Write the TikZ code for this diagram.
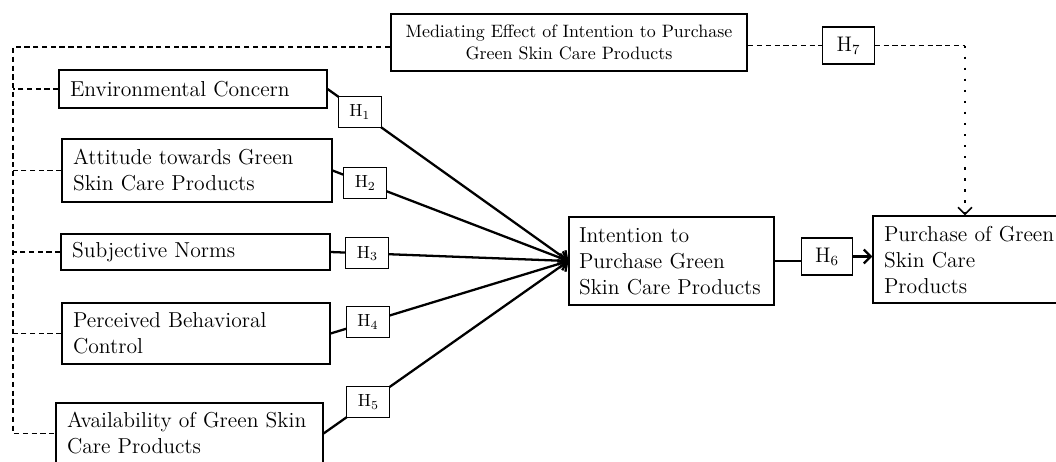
\documentclass[tikz,border=0pt]{standalone}
\usetikzlibrary{arrows.meta}
\begin{document}
\begin{tikzpicture}[x=0.02cm,y=-0.02cm,
  box/.style={draw, line width=0.65pt, fill=white, inner sep=0pt, align=left,
    font=\fontsize{12.3}{14.8}\selectfont},
  medbox/.style={draw, line width=1.4pt, fill=white, inner sep=0pt, align=center,
    minimum width=7.12cm, minimum height=1.14cm, font=\fontsize{10.2}{12.5}\selectfont},
  hbox/.style={draw, line width=0.65pt, fill=white, inner sep=0pt,
    minimum width=0.86cm, minimum height=0.62cm, font=\fontsize{10}{12}\selectfont},
  hbig/.style={draw, line width=0.65pt, fill=white, inner sep=0pt,
    minimum width=1.03cm, minimum height=0.74cm, font=\fontsize{12}{14}\selectfont},
  conn/.style={line width=1.3pt},
  connarrow/.style={line width=1.3pt, -{Straight Barb[length=4pt,width=8pt,line width=1.3pt]}},
  dashline/.style={line width=0.7pt, dash pattern=on 3pt off 2pt},
  dotline/.style={line width=1.3pt, dash pattern=on 1.3pt off 5pt},
]
\fill[white] (0,0) rectangle (1056,461);
\useasboundingbox (0,0) rectangle (1056,461);
\clip (0,0) rectangle (1056,461);

% boxes
\node[medbox] (med) at (569,42.5) {Mediating Effect of Intention to Purchase\\Green Skin Care Products};
\node[box, minimum width=5.36cm, minimum height=0.76cm, text width=4.92cm] (env) at (193,89) {Environmental Concern};
\node[box, minimum width=5.40cm, minimum height=1.26cm, text width=4.96cm] (att) at (197,170.5) {Attitude towards Green\\Skin Care Products};
\node[box, minimum width=5.38cm, minimum height=0.72cm, text width=4.94cm] (sub) at (195.5,252) {Subjective Norms};
\node[box, minimum width=5.36cm, minimum height=1.22cm, text width=4.92cm] (per) at (196,333.5) {Perceived Behavioral\\Control};
\node[box, minimum width=5.34cm, minimum height=1.22cm, text width=4.90cm] (ava) at (189.5,433.5) {Availability of Green Skin\\Care Products};
\node[box, minimum width=4.10cm, minimum height=1.76cm, text width=3.70cm] (int) at (671.5,261) {Intention to\\Purchase Green\\Skin Care Products};
\node[box, minimum width=4.40cm, minimum height=1.74cm, text width=3.96cm] (pur) at (983,259.5) {Purchase of Green\\Skin Care\\Products};
\node[hbig] (h7) at (848.5,45.5) {H$_7$};
\node[hbig] (h6) at (827,256.5) {H$_6$};

% dashed mediation lines
\coordinate (tl) at (13,47);
\coordinate (tr) at (965,45.5);
\draw[dashline] (tl -| med.west) -- (tl) -- (tl |- ava.west) -- (ava.west);
\draw[dashline] (env.west) -- (tl |- env.west);
\draw[dashline] (att.west) -- (tl |- att.west);
\draw[dashline] (sub.west) -- (tl |- sub.west);
\draw[dashline] (per.west) -- (tl |- per.west);
\draw[dashline] (med.east |- h7.west) -- (h7.west);
\draw[dashline] (h7.east) -- (tr);
\draw[dotline, -{Straight Barb[length=4pt,width=8pt,line width=0.9pt]}] (tr) -- (tr |- pur.north);

% main connectors
\draw[connarrow] (env.east) -- (int.west);
\draw[connarrow] (att.east) -- (int.west);
\draw[connarrow] (sub.east) -- (int.west);
\draw[connarrow] (per.east) -- (int.west);
\draw[connarrow] (ava.east) -- (int.west);
\path (env.east) -- (int.west) node[hbox, pos=0.134] (h1) {H$_1$};
\path (att.east) -- (int.west) node[hbox, pos=0.139] (h2) {H$_2$};
\path (sub.east) -- (int.west) node[hbox, pos=0.155] (h3) {H$_3$};
\path (per.east) -- (int.west) node[hbox, pos=0.157] (h4) {H$_4$};
\path (ava.east) -- (int.west) node[hbox, pos=0.183] (h5) {H$_5$};

\draw[conn] (int.east) -- (int.east -| h6.west);
\draw[connarrow] (h6.east) -- (h6.east -| pur.west);
\end{tikzpicture}
\end{document}
